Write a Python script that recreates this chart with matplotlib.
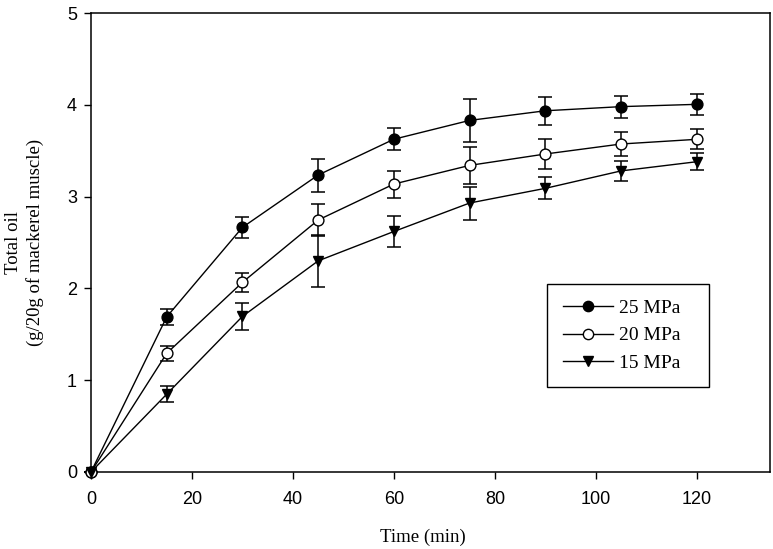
import matplotlib
matplotlib.use("Agg")
import matplotlib.pyplot as plt

# ---- data ----
time_min = [0, 15, 30, 45, 60, 75, 90, 105, 120]
oil_25 = [0, 1.69, 2.665, 3.235, 3.625, 3.83, 3.935, 3.98, 4.005]
err_25 = [0, 0.085, 0.117, 0.18, 0.12, 0.23, 0.15, 0.12, 0.116]
oil_20 = [0, 1.293, 2.066, 2.745, 3.137, 3.34, 3.464, 3.573, 3.624]
err_20 = [0, 0.08, 0.10, 0.17, 0.147, 0.20, 0.167, 0.136, 0.107]
oil_15 = [0, 0.848, 1.695, 2.30, 2.62, 2.93, 3.09, 3.28, 3.38]
err_15 = [0, 0.09, 0.15, 0.28, 0.165, 0.18, 0.12, 0.11, 0.09]
labels = ["25 MPa", "20 MPa", "15 MPa"]
x_ticks = [0, 20, 40, 60, 80, 100, 120]
y_ticks = [0, 1, 2, 3, 4, 5]

W, H = 773, 549
fig = plt.figure(figsize=(W / 100, H / 100), dpi=100)
ax = fig.add_axes([91 / W, (H - 472) / H, (770 - 91) / W, (472 - 13) / H])

series = [
    (oil_25, err_25, "o", "black"),
    (oil_20, err_20, "o", "white"),
    (oil_15, err_15, "v", "black"),
]
handles = []
for (vals, errs, mk, fc), lab in zip(series, labels):
    ax.errorbar(time_min, vals, yerr=errs, fmt="none", ecolor="black",
                elinewidth=1.1, capsize=4.7, capthick=1.1, zorder=2, clip_on=False)
    ln, = ax.plot(time_min, vals, color="black", lw=1.0, marker=mk, markersize=7.8,
                  markerfacecolor=fc, markeredgecolor="black", markeredgewidth=1.0,
                  label=lab, zorder=3, clip_on=False)
    handles.append(ln)

ax.set_xlim(0, 134.5)
ax.set_ylim(0, 5)
ax.set_xticks(x_ticks)
ax.set_yticks(y_ticks)
for sp in ax.spines.values():
    sp.set_linewidth(1.1)
ax.tick_params(axis="both", direction="out", length=5, width=1.0, labelsize=13)
ax.tick_params(axis="x", pad=9)
ax.tick_params(axis="y", pad=5)
for t in ax.get_xticklabels() + ax.get_yticklabels():
    t.set_family("Liberation Sans")

fig.text(422.7 / W, 1 - 537 / H, "Time (min)", ha="center", va="center",
         fontsize=13.5, family="Liberation Serif")
fig.text(24.5 / W, 1 - 242.5 / H, "Total oil\n(g/20g of mackerel muscle)",
         rotation=90, ha="center", va="center", multialignment="center",
         linespacing=1.3, fontsize=13.5, family="Liberation Serif")

leg = ax.legend(handles=handles, loc="upper left",
                bbox_to_anchor=(547 / W, 1 - 388 / H, (709 - 547) / W, (388 - 284) / H),
                bbox_transform=fig.transFigure, mode="expand", borderaxespad=0,
                prop={"family": "Liberation Serif", "size": 14},
                handlelength=2.6, handletextpad=0.3, borderpad=0.8, labelspacing=0.5,
                fancybox=False, framealpha=1, edgecolor="black", markerscale=0.95)
leg.get_frame().set_linewidth(1.0)

fig.savefig("out.png", dpi=100)
